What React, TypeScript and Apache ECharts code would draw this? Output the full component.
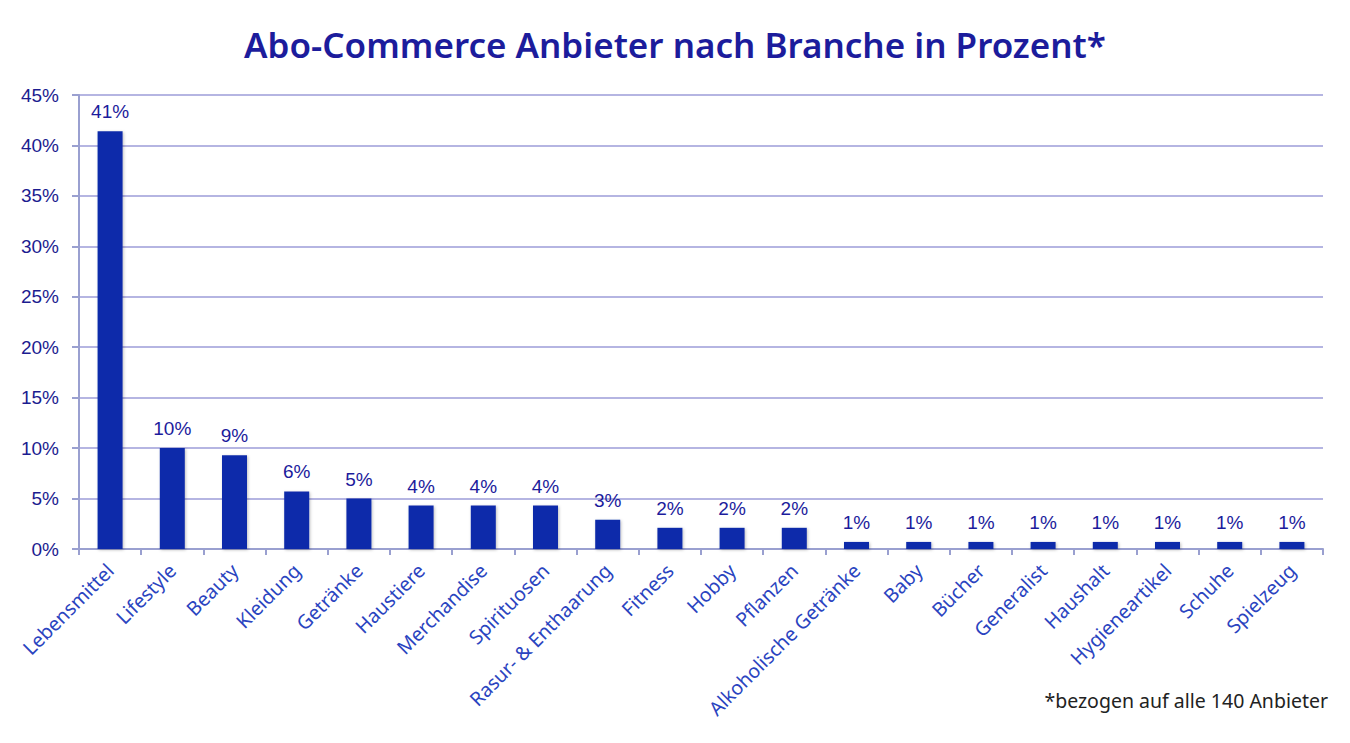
import React, { useEffect, useRef } from "react";
import * as echarts from "echarts";

const categories = [
  "Lebensmittel", "Lifestyle", "Beauty", "Kleidung", "Getränke", "Haustiere",
  "Merchandise", "Spirituosen", "Rasur- & Enthaarung", "Fitness", "Hobby", "Pflanzen",
  "Alkoholische Getränke", "Baby", "Bücher", "Generalist", "Haushalt",
  "Hygieneartikel", "Schuhe", "Spielzeug",
];
const shares = [
  41.4, 10.0, 9.3, 5.7, 5.0, 4.3, 4.3, 4.3, 2.9, 2.1, 2.1, 2.1,
  0.7, 0.7, 0.7, 0.7, 0.7, 0.7, 0.7, 0.7,
];
const titleText = "Abo-Commerce Anbieter nach Branche in Prozent*";
const footnote = "*bezogen auf alle 140 Anbieter";

export default function App() {
  const ref = useRef<HTMLDivElement>(null);
  useEffect(() => {
    if (!ref.current) return;
    const chart = echarts.init(ref.current, undefined, { renderer: "svg" });
    chart.setOption({
      animation: false,
      backgroundColor: "#ffffff",
      title: {
        text: titleText,
        left: "center",
        top: 22,
        textStyle: {
          fontFamily: "Noto Sans",
          fontWeight: 600,
          fontSize: 35,
          color: "#1c1c9c",
        },
      },
      graphic: [
        {
          type: "text",
          right: 22,
          top: 690,
          style: {
            text: footnote,
            font: "19.5px 'Noto Sans'",
            fill: "#222222",
          },
        },
      ],
      grid: { left: 79, right: 27, top: 95, bottom: 194, containLabel: false },
      xAxis: {
        type: "category",
        data: categories,
        axisLine: { show: true, lineStyle: { color: "#9aa0d0", width: 2 } },
        axisTick: { show: true, length: 6, lineStyle: { color: "#9aa0d0", width: 2 } },
        axisLabel: {
          rotate: 45,
          interval: 0,
          margin: 18,
          fontFamily: "Noto Sans",
          fontSize: 19.5,
          color: "#2a44c0",
        },
      },
      yAxis: {
        type: "value",
        min: 0,
        max: 45,
        interval: 5,
        axisLine: { show: true, lineStyle: { color: "#9aa0d0", width: 2 } },
        axisTick: { show: true, length: 7, lineStyle: { color: "#9aa0d0", width: 2 } },
        splitLine: { show: true, lineStyle: { color: "#9c9cd8", width: 1.5 } },
        axisLabel: {
          formatter: (v: number) => v + "%",
          fontFamily: "Liberation Sans",
          fontSize: 19,
          color: "#1c1c90",
          margin: 20,
        },
      },
      series: [
        {
          type: "bar",
          data: shares,
          barWidth: 25,
          itemStyle: {
            color: "#0e2caa",
            shadowColor: "rgba(0,0,0,0.25)",
            shadowBlur: 3,
            shadowOffsetX: 1,
            shadowOffsetY: 1,
          },
          label: {
            show: true,
            position: "top",
            distance: 10,
            formatter: (p: any) => Math.round(p.value) + "%",
            fontFamily: "Liberation Sans",
            fontSize: 19,
            color: "#1c1c9c",
          },
        },
      ],
    });
    return () => chart.dispose();
  }, []);
  return <div ref={ref} style={{ width: 1350, height: 743, margin: -8 }} />;
}
